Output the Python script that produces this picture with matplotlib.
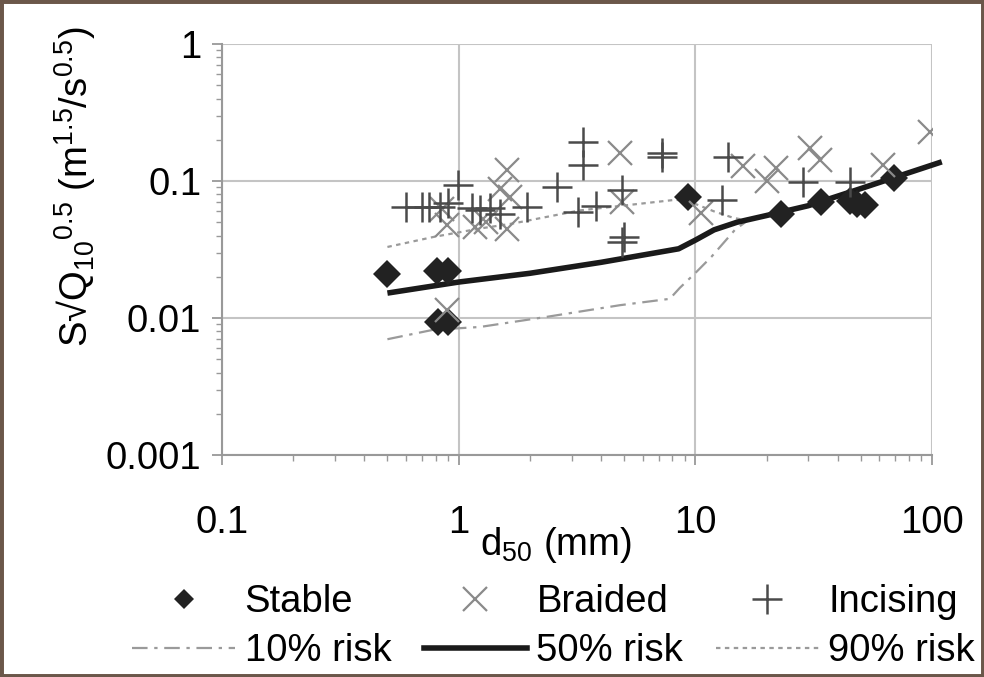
import matplotlib
matplotlib.use('agg')
from matplotlib import pyplot as plt
from matplotlib.lines import Line2D
from matplotlib.patches import Rectangle
from matplotlib.ticker import LogLocator, NullFormatter

plt.rcParams['font.family'] = ['Liberation Sans', 'DejaVu Sans']
plt.rcParams['mathtext.fontset'] = 'custom'
plt.rcParams['mathtext.rm'] = 'Liberation Sans'
plt.rcParams['mathtext.it'] = 'Liberation Sans'
plt.rcParams['mathtext.default'] = 'rm'

# observed reaches
stable_d50 = [0.50, 0.81, 0.90, 0.82, 0.90, 9.3, 23, 34, 45, 48, 52, 69]
stable_s = [0.021, 0.022, 0.022, 0.0093, 0.0093, 0.077, 0.057, 0.070, 0.071, 0.068, 0.067, 0.105]

braided_d50 = [0.89, 0.89, 0.85, 1.17, 1.30, 1.50, 1.60, 1.60, 1.65, 4.8, 4.9,
               10.6, 15.9, 20, 22, 30.5, 33.5, 62, 98]
braided_s = [0.0114, 0.048, 0.062, 0.046, 0.050, 0.088, 0.120, 0.045, 0.076, 0.160, 0.070,
             0.058, 0.128, 0.100, 0.124, 0.174, 0.142, 0.130, 0.228]

incising_d50 = [0.60, 0.70, 0.75, 0.83, 0.90, 0.99, 1.14, 1.23, 1.35, 1.50, 1.95, 2.6,
                3.2, 3.35, 3.35, 3.8, 4.9, 4.9, 5.0, 7.2, 7.2, 13, 13.7, 28.5, 45]
incising_s = [0.065, 0.065, 0.065, 0.065, 0.069, 0.094, 0.063, 0.061, 0.063, 0.057, 0.065, 0.090,
              0.059, 0.131, 0.193, 0.066, 0.086, 0.036, 0.039, 0.150, 0.160, 0.073, 0.150, 0.098, 0.098]

# risk curves
risk10_d50 = [0.5, 0.78, 1.23, 2.36, 4.8, 7.8, 8.6, 10, 11.7, 14.7, 17]
risk10_s = [0.0070, 0.0082, 0.0086, 0.0102, 0.0124, 0.0138, 0.0166, 0.0213, 0.028, 0.044, 0.053]

risk50_d50 = [0.5, 1, 2, 4, 8.5, 10, 12, 15, 20, 30, 50, 110]
risk50_s = [0.0152, 0.0183, 0.0212, 0.0255, 0.032, 0.037, 0.044, 0.050, 0.056, 0.066, 0.088, 0.138]

risk90_d50 = [0.5, 0.78, 1.23, 1.7, 3.25, 8.3, 10, 12, 14.4, 16]
risk90_s = [0.033, 0.039, 0.045, 0.049, 0.061, 0.073, 0.068, 0.060, 0.054, 0.052]

xticks = [0.1, 1, 10, 100]
xtick_labels = ['0.1', '1', '10', '100']
yticks = [0.001, 0.01, 0.1, 1]
ytick_labels = ['0.001', '0.01', '0.1', '1']

FS = 27.5
AXC = '#999999'

def main():
	fig = plt.figure(figsize=(9.84, 6.77), dpi=100)
	ax = fig.add_axes([222/984, 1-455/677, (932-222)/984, (455-44)/677])
	ax.set_xscale('log')
	ax.set_yscale('log')
	ax.set_xlim(0.1, 100)
	ax.set_ylim(0.001, 1)

	ax.plot(risk10_d50, risk10_s, color='#9a9a9a', lw=1.6, dashes=(7, 3, 1.5, 3), label='10% risk', zorder=2)
	ax.plot(risk90_d50, risk90_s, color='#9a9a9a', lw=1.6, dashes=(2, 2), label='90% risk', zorder=2)
	ax.plot(risk50_d50, risk50_s, color='#1a1a1a', lw=4, label='50% risk', zorder=3, clip_on=False,
		solid_capstyle='butt')

	ax.plot(stable_d50, stable_s, ls='none', marker='D', ms=14.5, color='#222222', mew=0,
		label='Stable', zorder=4)
	ax.plot(braided_d50, braided_s, ls='none', marker='x', ms=17, color='#8a8a8a', mew=1.6,
		label='Braided', zorder=4)
	ax.plot(incising_d50, incising_s, ls='none', marker='+', ms=22, color='#4a4a4a', mew=1.8,
		label='Incising', zorder=4)

	ax.set_xticks(xticks, labels=xtick_labels)
	ax.set_yticks(yticks, labels=ytick_labels)
	ax.xaxis.set_minor_locator(LogLocator(base=10, subs=range(2, 10)))
	ax.yaxis.set_minor_locator(LogLocator(base=10, subs=range(2, 10)))
	ax.xaxis.set_minor_formatter(NullFormatter())
	ax.yaxis.set_minor_formatter(NullFormatter())
	ax.tick_params(which='major', length=7, width=1.3, color=AXC, labelsize=FS)
	ax.tick_params(which='minor', length=4, width=1.0, color=AXC)
	ax.tick_params(axis='x', which='major', pad=29)
	ax.tick_params(axis='y', which='major', pad=8)

	ax.grid(True, which='major', color='#c4c4c4', lw=1.5)
	ax.set_axisbelow(True)
	for side in ['top', 'right']:
		ax.spines[side].set_visible(False)
	for side in ['left', 'bottom']:
		ax.spines[side].set_color(AXC)
		ax.spines[side].set_linewidth(1.5)

	fig.text(556/984, 1-545/677, r'd$_{50}$ (mm)', fontsize=FS, ha='center', va='center')
	fig.text(75/984, 1-187/677, 'S\u221aQ' + r'$_{10}$$^{0.5}$ (m$^{1.5}$/s$^{0.5}$)', fontsize=FS,
		rotation=90, ha='center', va='center')

	handles = [
		Line2D([], [], ls='none', marker='D', ms=10, color='#222222', mew=0),
		Line2D([], [], color='#9a9a9a', lw=1.6, dashes=(7, 3, 1.5, 3)),
		Line2D([], [], ls='none', marker='x', ms=17, color='#8a8a8a', mew=1.6),
		Line2D([], [], color='#1a1a1a', lw=4),
		Line2D([], [], ls='none', marker='+', ms=22, color='#4a4a4a', mew=1.8),
		Line2D([], [], color='#9a9a9a', lw=1.6, dashes=(2, 2)),
	]
	labels = ['Stable', '10% risk', 'Braided', '50% risk', 'Incising', '90% risk']
	fig.legend(handles, labels, ncol=3, loc='upper left', bbox_to_anchor=(132/984, 1-584/677),
		frameon=False, fontsize=FS, handlelength=2.7, handletextpad=0.25, columnspacing=0.85,
		labelspacing=0.35, borderpad=0, borderaxespad=0)

	fig.add_artist(Rectangle((0, 0), 1, 1, transform=fig.transFigure, fill=False,
		edgecolor='#6b574a', lw=5))

	fig.savefig('out.png', dpi=100)

main()
